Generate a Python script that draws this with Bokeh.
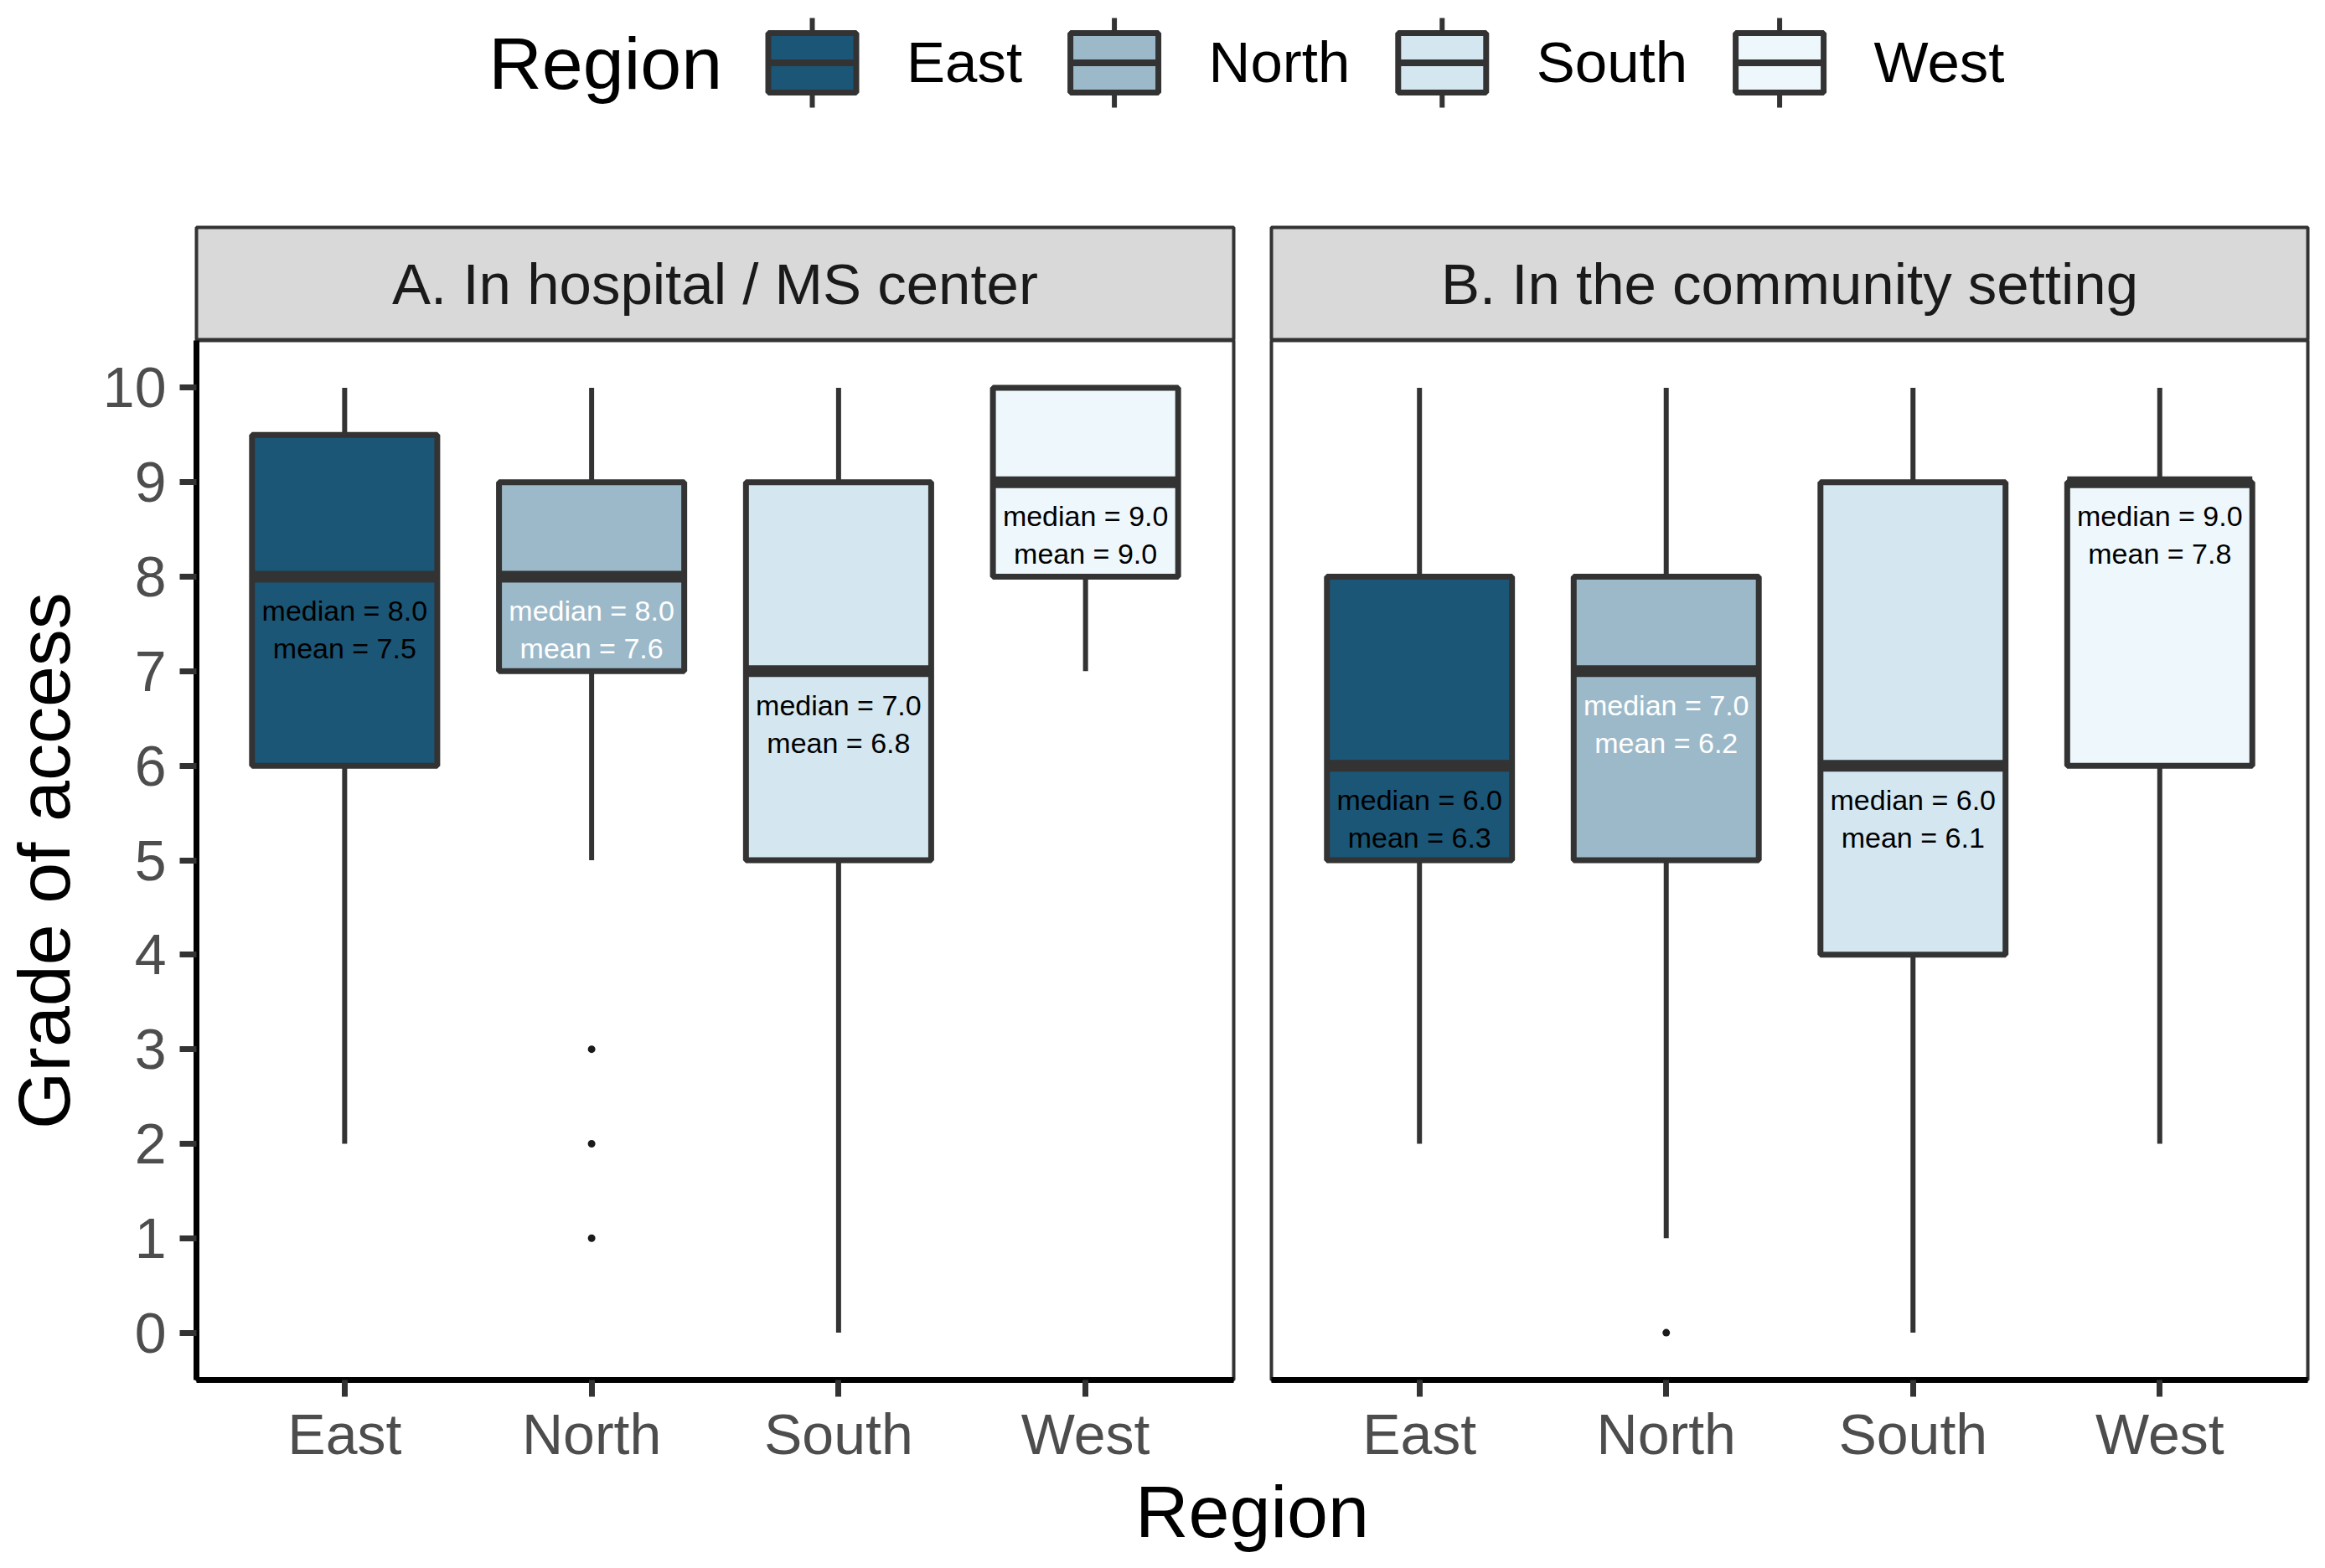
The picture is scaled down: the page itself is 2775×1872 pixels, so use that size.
import math
from bokeh.plotting import figure
from bokeh.models import Range1d, FixedTicker, ColumnDataSource, Label
from bokeh.layouts import column, row
from bokeh.embed import file_html
from bokeh.resources import INLINE
from bokeh.core.properties import value

# ---------------- data ----------------
regions = ["East", "North", "South", "West"]
fill_colors = ["#1B5676", "#9CB9C9", "#D4E7F1", "#EEF8FC"]
label_colors = ["#000000", "#FFFFFF", "#000000", "#000000"]
panel_titles = ["A. In hospital / MS center", "B. In the community setting"]
y_ticks = [0, 1, 2, 3, 4, 5, 6, 7, 8, 9, 10]
x_title = "Region"
y_title = "Grade of access"
legend_title = "Region"

hosp_lower = [2, 5, 0, 7]
hosp_q1 = [6, 7, 5, 8]
hosp_median = [8, 8, 7, 9]
hosp_q3 = [9.5, 9, 9, 10]
hosp_upper = [10, 10, 10, 10]
hosp_mean = [7.5, 7.6, 6.8, 9.0]
hosp_out_region = ["North", "North", "North"]
hosp_out_value = [3, 2, 1]

comm_lower = [2, 1, 0, 2]
comm_q1 = [5, 5, 4, 6]
comm_median = [6, 7, 6, 9]
comm_q3 = [8, 8, 9, 9]
comm_upper = [10, 10, 10, 10]
comm_mean = [6.3, 6.2, 6.1, 7.8]
comm_out_region = ["North"]
comm_out_value = [0]

# ---------------- style ----------------
FONT = "Liberation Sans"
DARK = "#333333"
HEADER_H = 268
STRIP_H = 138
PANEL_FRAME_H = 1242
PANEL_BOTTOM = 104
FOOTER_H = 104
YT_W = 110
A_LEFT, A_FRAME, A_RIGHT = 234, 1238, 4
B_LEFT, B_FRAME, B_RIGHT = 41, 1237, 4
TOTAL_W = A_LEFT + A_FRAME + A_RIGHT + B_LEFT + B_FRAME + B_RIGHT
BOX_W = 0.75
TITLE_PX = 88


def make_panel(lower, q1, med, q3, upper, mean, out_reg, out_val, left, frame, right, show_y):
    p = figure(width=left + frame + right, height=PANEL_FRAME_H + PANEL_BOTTOM, title=None,
               x_range=Range1d(0.4, len(regions) + 0.6), y_range=Range1d(-0.5, 10.5),
               output_backend="svg", toolbar_location=None,
               min_border_left=left, min_border_right=right,
               min_border_top=0, min_border_bottom=PANEL_BOTTOM)
    p.grid.visible = False
    p.outline_line_color = DARK
    p.outline_line_width = 4
    p.background_fill_color = "white"

    xs = [i + 1 for i in range(len(regions))]
    src = ColumnDataSource(dict(
        x=xs, lower=lower, q1=q1, med=med, q3=q3, upper=upper,
        ml=[x - BOX_W / 2 for x in xs], mr=[x + BOX_W / 2 for x in xs],
        fill=fill_colors, tcol=label_colors,
        t1=["median = %.1f" % m for m in med],
        t2=["mean = %.1f" % m for m in mean],
        y1=[m - 0.36 for m in med], y2=[m - 0.76 for m in med],
    ))
    p.segment(x0="x", y0="q3", x1="x", y1="upper", source=src, line_color=DARK, line_width=6)
    p.segment(x0="x", y0="lower", x1="x", y1="q1", source=src, line_color=DARK, line_width=6)
    p.vbar(x="x", width=BOX_W, top="q3", bottom="q1", source=src,
           fill_color="fill", line_color=DARK, line_width=7)
    p.segment(x0="ml", y0="med", x1="mr", y1="med", source=src, line_color=DARK, line_width=14)
    for col, ycol in (("t1", "y1"), ("t2", "y2")):
        p.text(x="x", y=ycol, text=col, source=src, text_color="tcol",
               text_font=value(FONT), text_font_size=value("34px"),
               text_align="center", text_baseline="middle")

    ox = [regions.index(r) + 1 for r in out_reg]
    p.scatter(x=ox, y=out_val, size=9, marker="circle", fill_color="#1A1A1A", line_color=None)

    p.xaxis.ticker = FixedTicker(ticks=xs)
    p.xaxis.major_label_overrides = {x: r for x, r in zip(xs, regions)}
    p.yaxis.ticker = FixedTicker(ticks=y_ticks)
    for ax in (p.xaxis[0], p.yaxis[0]):
        ax.axis_line_color = "black"
        ax.axis_line_width = 7
        ax.major_tick_line_color = DARK
        ax.major_tick_line_width = 7
        ax.major_tick_out = 20
        ax.major_tick_in = 0
        ax.minor_tick_line_color = None
        ax.major_label_text_font = FONT
        ax.major_label_text_font_size = "68px"
        ax.major_label_text_color = "#4D4D4D"
    p.xaxis.major_label_standoff = 6
    p.yaxis.major_label_standoff = 16
    if not show_y:
        p.yaxis.visible = False
    return p


def make_strip(title, left, frame, right):
    s = figure(width=left + frame + right, height=STRIP_H, title=None,
               x_range=Range1d(0, 1), y_range=Range1d(0, 1),
               x_axis_type=None, y_axis_type=None,
               output_backend="svg", toolbar_location=None,
               min_border_left=left, min_border_right=right,
               min_border_top=3, min_border_bottom=0,
               background_fill_color="#D9D9D9",
               outline_line_color=DARK, outline_line_width=4)
    s.grid.visible = False
    s.add_layout(Label(x=0.5, y=0.5, text=title, text_align="center", text_baseline="middle",
                       text_font=FONT, text_font_size="69px", text_color="#1A1A1A"))
    return s


def blank(width, height, flip=True):
    f = figure(width=width, height=height, title=None, x_range=Range1d(0, width),
               y_range=Range1d(height, 0) if flip else Range1d(0, height),
               x_axis_type=None, y_axis_type=None,
               output_backend="svg", toolbar_location=None, min_border=0,
               outline_line_color=None)
    f.grid.visible = False
    return f


# ---------------- header with legend ----------------
CHAR_W = {"R": .722, "e": .556, "g": .556, "i": .222, "o": .556, "n": .556, "E": .667,
          "a": .556, "s": .5, "t": .278, "N": .722, "r": .333, "h": .556, "S": .667,
          "u": .556, "W": .944}


def text_w(s, size):
    return sum(CHAR_W.get(c, .556) for c in s) * size


hdr = blank(TOTAL_W, HEADER_H)
LAB_SIZE = 69
KEY_W, KEY_H, WH = 105, 71, 107
ITEM_GAP = 57.5
cy = 74.5
panel_center = (A_LEFT + (A_LEFT + A_FRAME + A_RIGHT + B_LEFT + B_FRAME)) / 2
total = (text_w(legend_title, TITLE_PX) + 55
         + sum(KEY_W + 60 + text_w(r, LAB_SIZE) for r in regions) + ITEM_GAP * (len(regions) - 1))
x0 = panel_center - total / 2 - 6
hdr.text(x=[x0], y=[cy + 0.5], text=[legend_title], text_font=value(FONT),
         text_font_size=value("%dpx" % TITLE_PX), text_color="black",
         text_align="left", text_baseline="middle")
kx = x0 + text_w(legend_title, TITLE_PX) + 55
kl, kr, lx = [], [], []
for r in regions:
    kl.append(kx)
    kr.append(kx + KEY_W)
    lx.append(kx + KEY_W + 60)
    kx = kx + KEY_W + 60 + text_w(r, LAB_SIZE) + ITEM_GAP
kc = [(a + b) / 2 for a, b in zip(kl, kr)]
n = len(regions)
hdr.segment(x0=kc, y0=[cy - WH / 2] * n, x1=kc, y1=[cy + WH / 2] * n, line_color=DARK, line_width=6)
hdr.quad(left=kl, right=kr, top=[cy - KEY_H / 2] * n, bottom=[cy + KEY_H / 2] * n,
         fill_color=fill_colors, line_color=DARK, line_width=7)
hdr.segment(x0=kl, y0=[cy] * n, x1=kr, y1=[cy] * n, line_color=DARK, line_width=8)
hdr.text(x=lx, y=[cy - 0.5] * n, text=regions, text_font=value(FONT),
         text_font_size=value("%dpx" % LAB_SIZE), text_color="black",
         text_align="left", text_baseline="middle")

# ---------------- y-axis title column ----------------
ytf = blank(YT_W, STRIP_H + PANEL_FRAME_H + PANEL_BOTTOM, flip=False)
ytf.text(x=[52], y=[PANEL_BOTTOM + PANEL_FRAME_H / 2], text=[y_title], angle=math.pi / 2,
         text_font=value(FONT), text_font_size=value("%dpx" % TITLE_PX), text_color="black",
         text_align="center", text_baseline="middle")

# ---------------- panels ----------------
stripA = make_strip(panel_titles[0], A_LEFT - YT_W, A_FRAME, A_RIGHT)
stripB = make_strip(panel_titles[1], B_LEFT, B_FRAME, B_RIGHT)
pA = make_panel(hosp_lower, hosp_q1, hosp_median, hosp_q3, hosp_upper, hosp_mean,
                hosp_out_region, hosp_out_value, A_LEFT - YT_W, A_FRAME, A_RIGHT, True)
pB = make_panel(comm_lower, comm_q1, comm_median, comm_q3, comm_upper, comm_mean,
                comm_out_region, comm_out_value, B_LEFT, B_FRAME, B_RIGHT, False)

# ---------------- footer (x-axis title) ----------------
ftr = blank(TOTAL_W, FOOTER_H)
ftr.text(x=[panel_center], y=[52], text=[x_title], text_font=value(FONT),
         text_font_size=value("%dpx" % TITLE_PX), text_color="black",
         text_align="center", text_baseline="middle")

layout = column(hdr, row(ytf, column(stripA, pA), column(stripB, pB)), ftr)
open("out.html", "w").write(file_html(layout, INLINE))
